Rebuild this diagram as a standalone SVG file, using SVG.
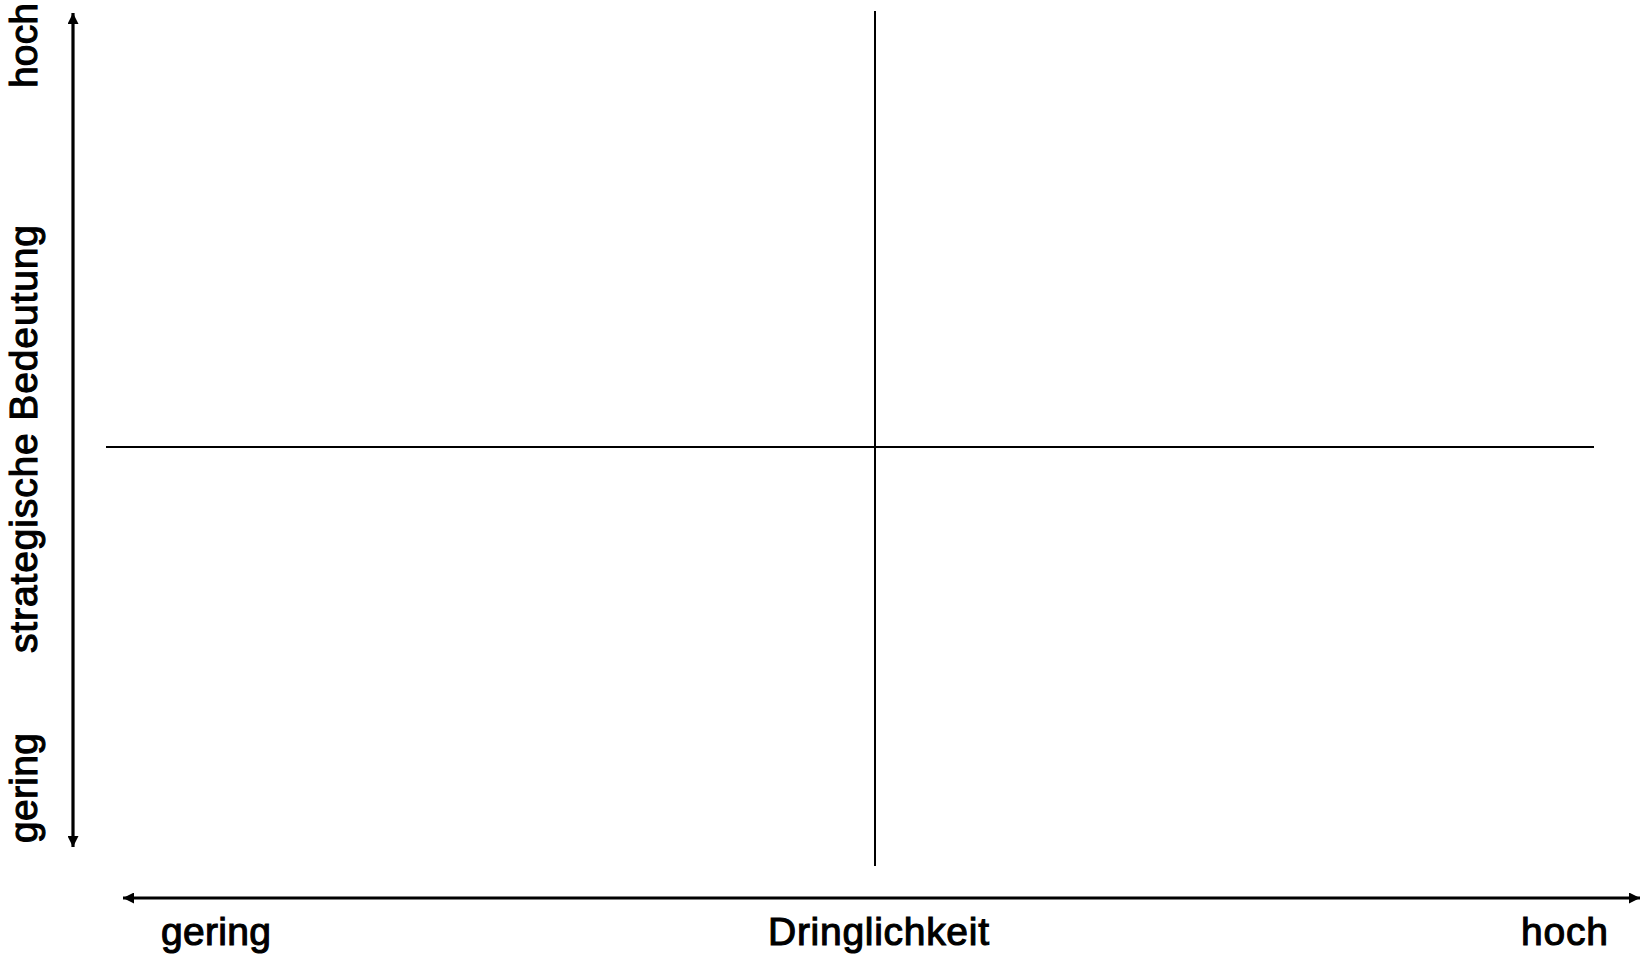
<svg xmlns="http://www.w3.org/2000/svg" width="1641" height="958" viewBox="0 0 1641 958">
<style>
.lbl{font-family:"Liberation Sans",Arial,Helvetica,sans-serif;font-size:39px;fill:#000;stroke:#000;stroke-width:1.1}
.axis{stroke:#000;stroke-width:3.2;fill:none}
.grid{stroke:#000;stroke-width:2;fill:none}
</style>
<defs>
<marker id="ah" markerUnits="userSpaceOnUse" markerWidth="12" markerHeight="11" refX="11" refY="5.5" orient="auto-start-reverse" viewBox="0 0 12 11">
<path d="M0,0 L11,5.5 L0,11 Z" fill="#000"/>
</marker>
</defs>
<rect width="1641" height="958" fill="#fff"/>
<g id="connectors">
<line class="axis" x1="73" y1="847" x2="73" y2="13" marker-start="url(#ah)" marker-end="url(#ah)"/>
<line class="axis" x1="123" y1="898" x2="1640" y2="898" marker-start="url(#ah)" marker-end="url(#ah)"/>
<line class="grid" x1="875" y1="11" x2="875" y2="866"/>
<line class="grid" x1="106" y1="447" x2="1594" y2="447"/>
</g>
<g id="y-labels">
<text class="lbl" transform="translate(37,88) rotate(-90)" textLength="85" lengthAdjust="spacing">hoch</text>
<text class="lbl" transform="translate(37,653) rotate(-90)" textLength="428" lengthAdjust="spacing">strategische Bedeutung</text>
<text class="lbl" transform="translate(37,843) rotate(-90)" textLength="110" lengthAdjust="spacing">gering</text>
</g>
<g id="x-labels">
<text class="lbl" x="161" y="945" textLength="110" lengthAdjust="spacing">gering</text>
<text class="lbl" x="768" y="945" textLength="221" lengthAdjust="spacing">Dringlichkeit</text>
<text class="lbl" x="1521" y="945" textLength="87" lengthAdjust="spacing">hoch</text>
</g>
</svg>
